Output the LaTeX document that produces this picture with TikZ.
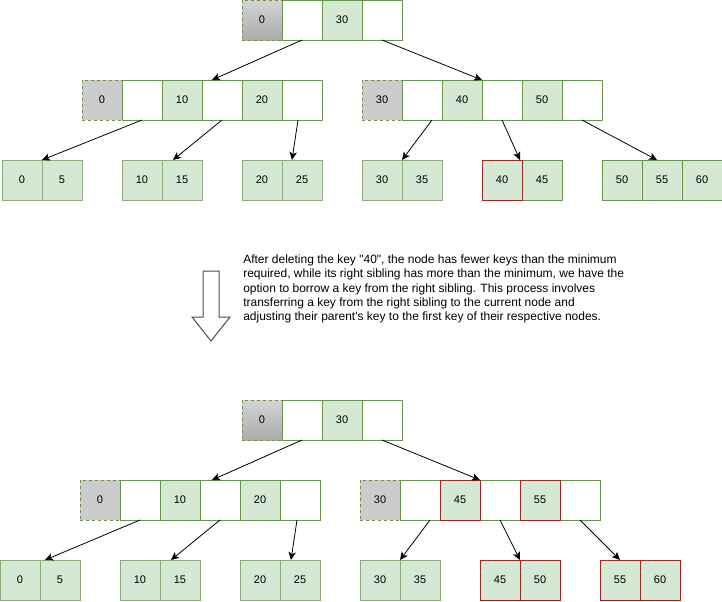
\documentclass[tikz,border=0pt]{standalone}
\usepackage{fontspec}
\setmainfont{Liberation Sans}
\usetikzlibrary{positioning,calc,arrows.meta}

\definecolor{keyfill}{HTML}{D5E8D4}
\definecolor{leafline}{HTML}{82B366}
\definecolor{nodeline}{HTML}{5AA51E}

\begin{document}
\begin{tikzpicture}[
    x=0.75pt, y=-0.75pt,
    node distance=0pt,
    cell/.style={rectangle, draw=nodeline, line width=0.75pt, minimum size=30pt, inner sep=0pt, outer sep=0pt, font=\fontsize{8.25}{10}\selectfont},
    ptr/.style={cell, fill=white},
    key/.style={cell, fill=keyfill},
    first/.style={cell, fill=black!20, dash pattern=on 2.25pt off 2.25pt},
    rootfirst/.style={first, top color=black!17, bottom color=black!33},
    leaf/.style={key, draw=leafline},
    moved/.style={draw=red},
    arrow/.style={-{Stealth[length=6pt, width=5.5pt, inset=1.5pt]}, line width=0.6pt},
    note/.style={align=left, inner sep=0pt, font=\fontsize{9}{10.8}\selectfont},
    hollow/.style={draw=black!70, line width=0.75pt, fill=white}
]
\useasboundingbox (0,0) rectangle (722,601);

% Tree before
\node[rootfirst, anchor=north west] (rootA0) at (242,0) {0};
\node[ptr, right=of rootA0] (rootAp1) {};
\node[key, right=of rootAp1] (rootA30) {30};
\node[ptr, right=of rootA30] (rootAp2) {};

\node[first, anchor=north west] (lA0) at (82,80) {0};
\node[ptr, right=of lA0] (lAp1) {};
\node[key, right=of lAp1] (lA10) {10};
\node[ptr, right=of lA10] (lAp2) {};
\node[key, right=of lAp2] (lA20) {20};
\node[ptr, right=of lA20] (lAp3) {};

\node[first, anchor=north west] (mA30) at (362,80) {30};
\node[ptr, right=of mA30] (mAp1) {};
\node[key, right=of mAp1] (mA40) {40};
\node[ptr, right=of mA40] (mAp2) {};
\node[key, right=of mAp2] (mA50) {50};
\node[ptr, right=of mA50] (mAp3) {};

\node[leaf, anchor=north west] (leafA0) at (2,160) {0};
\node[leaf, right=of leafA0] (leafA5) {5};
\node[leaf, anchor=north west] (leafA10) at (122,160) {10};
\node[leaf, right=of leafA10] (leafA15) {15};
\node[leaf, anchor=north west] (leafA20) at (242,160) {20};
\node[leaf, right=of leafA20] (leafA25) {25};
\node[leaf, anchor=north west] (leafA30) at (362,160) {30};
\node[leaf, right=of leafA30] (leafA35) {35};
\node[key, moved, anchor=north west] (leafA40) at (482,160) {40};
\node[key, right=of leafA40] (leafA45) {45};
\node[key, anchor=north west] (leafA50) at (602,160) {50};
\node[key, right=of leafA50] (leafA55) {55};
\node[key, right=of leafA55] (leafA60) {60};

% Explanation
\draw[hollow] (203,271) -- (219,271) -- (219,317) -- (230,317) -- (211,341) -- (192,317) -- (203,317) -- cycle;
\node[note, anchor=west] (note) at (243,289) {After deleting the key \textquotedbl40\textquotedbl, the node has fewer keys than the minimum\\
required, while its right sibling has more than the minimum, we have the\\
option to borrow a key from the right sibling. This process involves\\
transferring a key from the right sibling to the current node and\\
adjusting their parent\textquotesingle s key to the first key of their respective nodes.};

% Tree after
\node[rootfirst, anchor=north west] (rootB0) at (242,400) {0};
\node[ptr, right=of rootB0] (rootBp1) {};
\node[key, right=of rootBp1] (rootB30) {30};
\node[ptr, right=of rootB30] (rootBp2) {};

\node[first, anchor=north west] (lB0) at (80,480) {0};
\node[ptr, right=of lB0] (lBp1) {};
\node[key, right=of lBp1] (lB10) {10};
\node[ptr, right=of lB10] (lBp2) {};
\node[key, right=of lBp2] (lB20) {20};
\node[ptr, right=of lB20] (lBp3) {};

\node[first, anchor=north west] (mB30) at (360,480) {30};
\node[ptr, right=of mB30] (mBp1) {};
\node[key, moved, right=of mBp1] (mB45) {45};
\node[ptr, right=of mB45] (mBp2) {};
\node[key, moved, right=of mBp2] (mB55) {55};
\node[ptr, right=of mB55] (mBp3) {};

\node[leaf, anchor=north west] (leafB0) at (0,560) {0};
\node[leaf, right=of leafB0] (leafB5) {5};
\node[leaf, anchor=north west] (leafB10) at (120,560) {10};
\node[leaf, right=of leafB10] (leafB15) {15};
\node[leaf, anchor=north west] (leafB20) at (240,560) {20};
\node[leaf, right=of leafB20] (leafB25) {25};
\node[leaf, anchor=north west] (leafB30) at (360,560) {30};
\node[leaf, right=of leafB30] (leafB35) {35};
\node[key, moved, anchor=north west] (leafB45) at (480,560) {45};
\node[key, moved, right=of leafB45] (leafB50) {50};
\node[key, moved, anchor=north west] (leafB55) at (600,560) {55};
\node[key, moved, right=of leafB55] (leafB60) {60};

% red outlines on top
\foreach \n in {leafA40, mB45, mB55, leafB45, leafB50, leafB55, leafB60}
    \draw[red, line width=0.75pt] (\n.south west) rectangle (\n.north east);

% Arrows before
\draw[arrow] (rootAp1.south) -- ($(lAp2.north)+(-10,0)$);
\draw[arrow] (rootAp2.south) -- (mA40.north east);
\draw[arrow] (lAp1.south) -- (leafA0.north east);
\draw[arrow] (lAp2.south) -- ($(leafA10.north east)+(11,0)$);
\draw[arrow] ($(lAp3.south)+(-4,0)$) -- ($(leafA25.north)+(-10,0)$);
\draw[arrow] ($(mAp1.south)+(10,0)$) -- (leafA30.north east);
\draw[arrow] (mAp2.south) -- ($(leafA40.north east)+(-2,0)$);
\draw[arrow] (mAp3.south) -- ($(leafA55.north)+(-5,0)$);

% Arrows after
\draw[arrow] (rootBp1.south) -- ($(lBp2.north)+(-8,0)$);
\draw[arrow] (rootBp2.south) -- (mB45.north east);
\draw[arrow] (lBp1.south) -- ($(leafB0.north east)+(5,0)$);
\draw[arrow] (lBp2.south) -- ($(leafB10.north east)+(11,0)$);
\draw[arrow] ($(lBp3.south)+(-3,0)$) -- ($(leafB25.north)+(-9,0)$);
\draw[arrow] ($(mBp1.south)+(10,0)$) -- (leafB30.north east);
\draw[arrow] (mBp2.south) -- (leafB45.north east);
\draw[arrow] (mBp3.south) -- (leafB55.north);

\end{tikzpicture}
\end{document}
